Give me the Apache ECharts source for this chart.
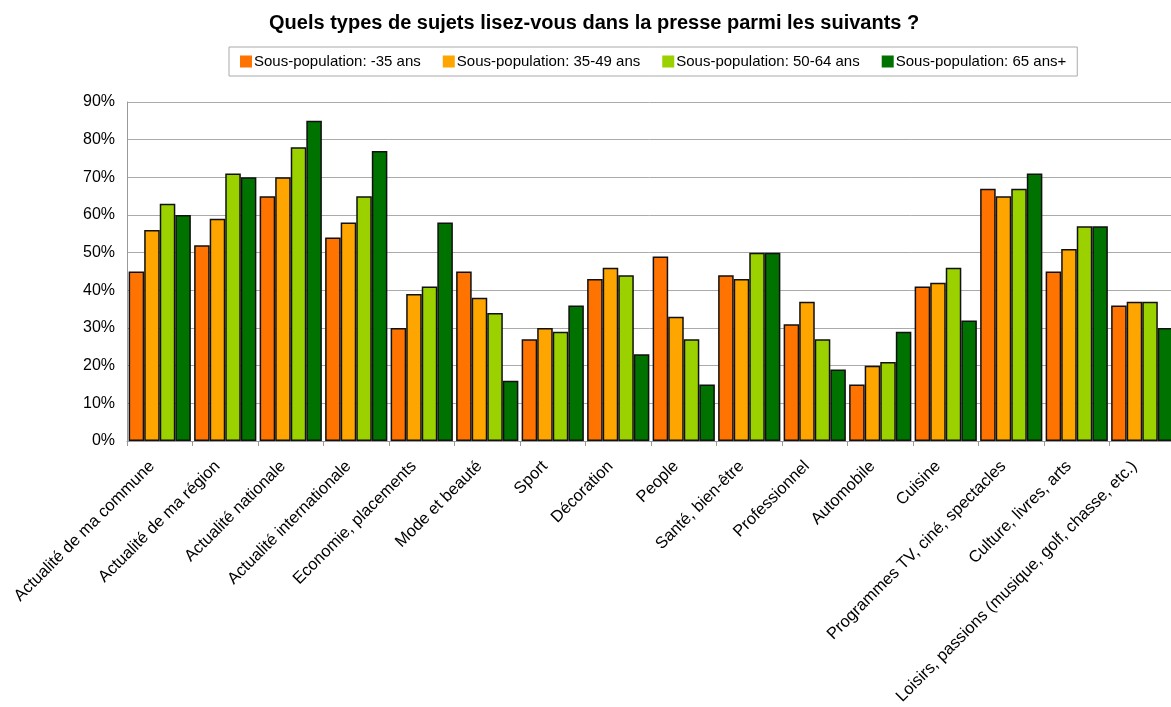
<!DOCTYPE html>
<html>
<head>
<meta charset="utf-8">
<script src="https://cdn.jsdelivr.net/npm/echarts@6/dist/echarts.min.js"></script>
<style>
  html, body { margin: 0; padding: 0; background: #fff; }
  #chart { width: 1171px; height: 707px; }
</style>
</head>
<body>
<div id="chart"></div>
<script>
// Sujets lus dans la presse, par tranche d'âge (en %)
const categories = [
  'Actualité de ma commune',
  'Actualité de ma région',
  'Actualité nationale',
  'Actualité internationale',
  'Economie, placements',
  'Mode et beauté',
  'Sport',
  'Décoration',
  'People',
  'Santé, bien-être',
  'Professionnel',
  'Automobile',
  'Cuisine',
  'Programmes TV, ciné, spectacles',
  'Culture, livres, arts',
  'Loisirs, passions (musique, golf, chasse, etc.)'
];
const seriesNames = [
  'Sous-population: -35 ans',
  'Sous-population: 35-49 ans',
  'Sous-population: 50-64 ans',
  'Sous-population: 65 ans+'
];
const moins35 = [45, 52, 65, 54, 30, 45, 27, 43, 49, 44, 31, 15, 41, 67, 45, 36];
const de35a49 = [56, 59, 70, 58, 39, 38, 30, 46, 33, 43, 37, 20, 42, 65, 51, 37];
const de50a64 = [63, 71, 78, 65, 41, 34, 29, 44, 27, 50, 27, 21, 46, 67, 57, 37];
const plus65  = [60, 70, 85, 77, 58, 16, 36, 23, 15, 50, 19, 29, 32, 71, 57, 30];
const yTicks = [0, 10, 20, 30, 40, 50, 60, 70, 80, 90];

const colors = ['#FF7300', '#FFA500', '#9CD100', '#007200'];
const values = [moins35, de35a49, de50a64, plus65];

const chart = echarts.init(document.getElementById('chart'));
chart.setOption({
  animation: false,
  textStyle: { fontFamily: '"Liberation Sans", Arial, sans-serif' },
  title: {
    text: 'Quels types de sujets lisez-vous dans la presse parmi les suivants ?',
    left: 264,
    top: 8,
    textStyle: { fontSize: 20, fontWeight: 'bold', color: '#000',
                 fontFamily: '"Liberation Sans", Arial, sans-serif' }
  },
  legend: {
    data: seriesNames,
    left: 229,
    top: 47,
    padding: [7, 11, 7, 11],
    itemGap: 22,
    itemWidth: 12,
    itemHeight: 12,
    borderColor: '#aaa',
    borderWidth: 1,
    icon: 'rect',
    itemStyle: { borderWidth: 0 },
    textStyle: { fontSize: 15, color: '#000', padding: [0, 0, 0, -3] }
  },
  grid: {
    left: 127, top: 102, width: 1048, height: 339,
    containLabel: false,
    outerBoundsMode: 'none'
  },
  xAxis: {
    type: 'category',
    data: categories,
    axisLine: { lineStyle: { color: '#999', width: 1 } },
    axisTick: { show: true, length: 5, lineStyle: { color: '#999' } },
    axisLabel: {
      interval: 0,
      rotate: 45,
      fontSize: 16.5,
      color: '#000',
      margin: 15,
      padding: [0, 11, 0, 0]
    }
  },
  yAxis: {
    type: 'value',
    min: 0,
    max: 90,
    interval: 10,
    axisLine: { show: true, lineStyle: { color: '#999' } },
    axisTick: { show: false },
    axisLabel: {
      fontSize: 16,
      color: '#000',
      margin: 12,
      formatter: v => yTicks.includes(v) ? v + '%' : ''
    },
    splitLine: { lineStyle: { color: '#aaa', width: 1 } }
  },
  series: values.map((d, i) => ({
    name: seriesNames[i],
    type: 'bar',
    data: d,
    barGap: '0%',
    barCategoryGap: '5%',
    itemStyle: {
      color: colors[i],
      borderColor: '#111',
      borderWidth: 1.5
    }
  }))
});
</script>
</body>
</html>
